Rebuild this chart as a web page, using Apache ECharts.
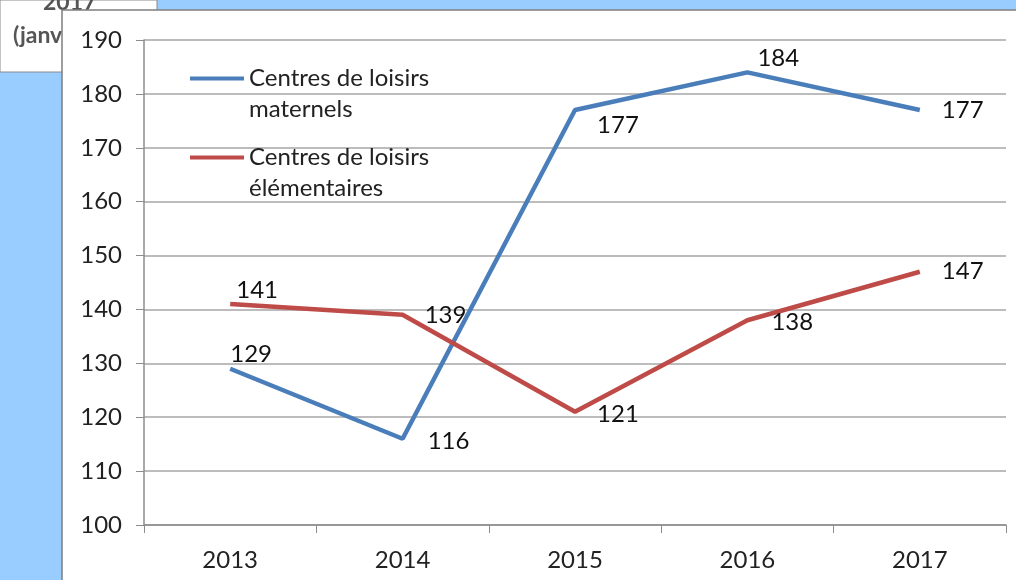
<!DOCTYPE html>
<html>
<head>
<meta charset="utf-8">
<script src="https://cdn.jsdelivr.net/npm/echarts@6/dist/echarts.min.js"></script>
<style>
html, body { margin: 0; padding: 0; background: #99ccff; }
#chartmain { width: 1016px; height: 580px; }
</style>
</head>
<body>
<div id="chartmain"></div>
<script>
var years = ['2013', '2014', '2015', '2016', '2017'];
var maternels = [129, 116, 177, 184, 177];
var elementaires = [141, 139, 121, 138, 147];
var yTicks = { min: 100, max: 190, step: 10 };

var FONT = 'Lato, "Open Sans", sans-serif';

// position des etiquettes (a droite, un peu decalees)
var blueOffsets = [[-22, -14], [3, 2], [0, 15], [-12, -14], [0, 0]];
var redOffsets = [[-16, -14], [0, 0], [0, 2], [2, 2], [0, 0]];

function buildData(values, offsets) {
    var out = [];
    for (var i = 0; i < values.length; i++) {
        out.push({ value: values[i], label: { offset: offsets[i] } });
    }
    return out;
}

// trait de legende aligne sur la premiere ligne du texte
var legendIcon = 'path://M0,13.5 L54,13.5 L54,17.5 L0,17.5 Z M0,0 L0,0 M0,62 L0,62';

var option = {
    animation: false,
    backgroundColor: 'transparent',
    graphic: [
        { type: 'rect', shape: { x: 0, y: 0, width: 157, height: 72 }, style: { fill: '#ffffff', stroke: '#8a8a8a', lineWidth: 1 }, z: -10 },
        { type: 'text', left: 43, top: -9, style: { text: '2017', font: 'bold 23px ' + FONT, fill: '#555555' }, z: -9 },
        { type: 'text', left: 13, top: 24, style: { text: '(janv', font: 'bold 23px ' + FONT, fill: '#555555' }, z: -9 },
        { type: 'rect', shape: { x: 62, y: 10, width: 1000, height: 600 }, style: { fill: '#ffffff', stroke: '#7f7f7f', lineWidth: 1.5 }, z: -5 }
    ],
    color: ['#4a7ebb', '#be4b48'],
    legend: {
        orient: 'vertical',
        left: 190,
        top: 63,
        padding: 0,
        itemWidth: 54,
        itemHeight: 62,
        itemGap: 17,
        icon: legendIcon,
        data: ['Centres de loisirs\nmaternels', 'Centres de loisirs\nélémentaires'],
        textStyle: {
            fontFamily: FONT,
            fontSize: 24,
            color: '#222222',
            lineHeight: 31
        }
    },
    grid: { left: 144, right: 10, top: 40, bottom: 55 },
    xAxis: {
        type: 'category',
        data: years,
        boundaryGap: true,
        axisLine: { lineStyle: { color: '#8c8c8c', width: 1.5 } },
        axisTick: { show: true, length: 8, lineStyle: { color: '#8c8c8c' } },
        axisLabel: { fontFamily: FONT, fontSize: 24, color: '#222222', margin: 23 }
    },
    yAxis: {
        type: 'value',
        min: yTicks.min,
        max: yTicks.max,
        interval: yTicks.step,
        axisLine: { show: true, lineStyle: { color: '#8c8c8c', width: 1.5 } },
        axisTick: { show: true, length: 8, lineStyle: { color: '#8c8c8c' } },
        axisLabel: { fontFamily: FONT, fontSize: 24, color: '#222222', margin: 22 },
        splitLine: { lineStyle: { color: '#a6a6a6', width: 1.5 } }
    },
    series: [
        {
            name: 'Centres de loisirs\nmaternels',
            type: 'line',
            data: buildData(maternels, blueOffsets),
            symbol: 'circle',
            symbolSize: 0.1,
            showSymbol: true,
            lineStyle: { width: 4.5 },
            label: { show: true, position: 'right', distance: 22, fontFamily: FONT, fontSize: 24, color: '#111111' }
        },
        {
            name: 'Centres de loisirs\nélémentaires',
            type: 'line',
            data: buildData(elementaires, redOffsets),
            symbol: 'circle',
            symbolSize: 0.1,
            showSymbol: true,
            lineStyle: { width: 4.5 },
            label: { show: true, position: 'right', distance: 22, fontFamily: FONT, fontSize: 24, color: '#111111' }
        }
    ]
};

var myChart = echarts.init(document.getElementById('chartmain'));
myChart.setOption(option);
</script>
</body>
</html>
